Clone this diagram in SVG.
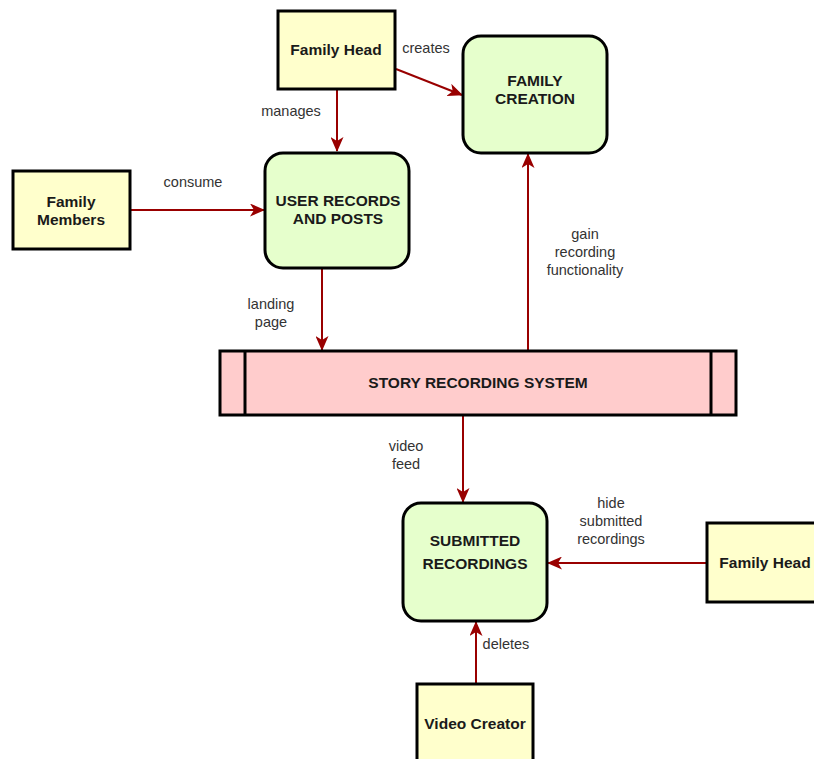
<svg xmlns="http://www.w3.org/2000/svg" width="814" height="759" viewBox="0 0 814 759">
<style>
.ent{fill:#FFFFCC;stroke:#000;stroke-width:3}
.proc{fill:#E6FFCC;stroke:#000;stroke-width:3}
.store{fill:#FFCCCC;stroke:#000;stroke-width:3}
.nt{font-family:"Liberation Sans",Arial,sans-serif;font-size:15.5px;font-weight:bold;fill:#1a1a1a;text-anchor:middle}
.lb{font-family:"Liberation Sans",Arial,sans-serif;font-size:14.5px;fill:#333;text-anchor:middle}
.edge{stroke:#990000;stroke-width:2;fill:none;marker-end:url(#arr)}
</style>
<defs>
<marker id="arr" viewBox="0 0 15 13" refX="14" refY="6.5" markerWidth="15" markerHeight="13" markerUnits="userSpaceOnUse" orient="auto">
<path d="M0,0 L15,6.5 L0,13 L4,6.5 z" fill="#990000"/>
</marker>
</defs>
<rect width="814" height="759" fill="#fff"/>
<g id="connectors">
<line class="edge" x1="337" y1="90" x2="337" y2="151"/>
<line class="edge" x1="396" y1="69" x2="462" y2="95"/>
<line class="edge" x1="131" y1="210" x2="264" y2="210"/>
<line class="edge" x1="322" y1="269" x2="322" y2="350"/>
<line class="edge" x1="528" y1="350" x2="528" y2="154"/>
<line class="edge" x1="463" y1="416" x2="463" y2="502"/>
<line class="edge" x1="706" y1="563" x2="548" y2="563"/>
<line class="edge" x1="476" y1="683" x2="476" y2="622"/>
<text class="lb" x="291" y="116">manages</text>
<text class="lb" x="426" y="53">creates</text>
<text class="lb" x="193" y="187">consume</text>
<text class="lb" x="271" y="309">landing</text>
<text class="lb" x="271" y="327">page</text>
<text class="lb" x="585" y="239">gain</text>
<text class="lb" x="585" y="257">recording</text>
<text class="lb" x="585" y="275">functionality</text>
<text class="lb" x="406" y="451">video</text>
<text class="lb" x="406" y="469">feed</text>
<text class="lb" x="611" y="508">hide</text>
<text class="lb" x="611" y="526">submitted</text>
<text class="lb" x="611" y="544">recordings</text>
<text class="lb" x="506" y="649">deletes</text>
</g>
<g id="family-head-top">
<rect class="ent" x="278" y="11" width="117" height="78"/>
<text class="nt" x="336" y="55">Family Head</text>
</g>
<g id="family-creation">
<rect class="proc" x="463" y="36" width="144" height="117" rx="18"/>
<text class="nt" x="535" y="86">FAMILY</text>
<text class="nt" x="535" y="104">CREATION</text>
</g>
<g id="family-members">
<rect class="ent" x="13" y="171" width="117" height="78"/>
<text class="nt" x="71" y="207">Family</text>
<text class="nt" x="71" y="225">Members</text>
</g>
<g id="user-records">
<rect class="proc" x="265" y="153" width="144" height="115" rx="18"/>
<text class="nt" x="338" y="206">USER RECORDS</text>
<text class="nt" x="338" y="224">AND POSTS</text>
</g>
<g id="story-recording-system">
<rect class="store" x="220" y="351" width="516" height="64"/>
<line x1="245" y1="351" x2="245" y2="415" stroke="#000" stroke-width="3"/>
<line x1="711" y1="351" x2="711" y2="415" stroke="#000" stroke-width="3"/>
<text class="nt" x="478" y="388">STORY RECORDING SYSTEM</text>
</g>
<g id="submitted-recordings">
<rect class="proc" x="403" y="503" width="144" height="118" rx="18"/>
<text class="nt" x="475" y="546">SUBMITTED</text>
<text class="nt" x="475" y="569">RECORDINGS</text>
</g>
<g id="family-head-right">
<rect class="ent" x="707" y="523" width="117" height="79"/>
<text class="nt" x="765" y="568">Family Head</text>
</g>
<g id="video-creator">
<rect class="ent" x="417" y="684" width="116" height="90"/>
<text class="nt" x="475" y="729">Video Creator</text>
</g>
</svg>
